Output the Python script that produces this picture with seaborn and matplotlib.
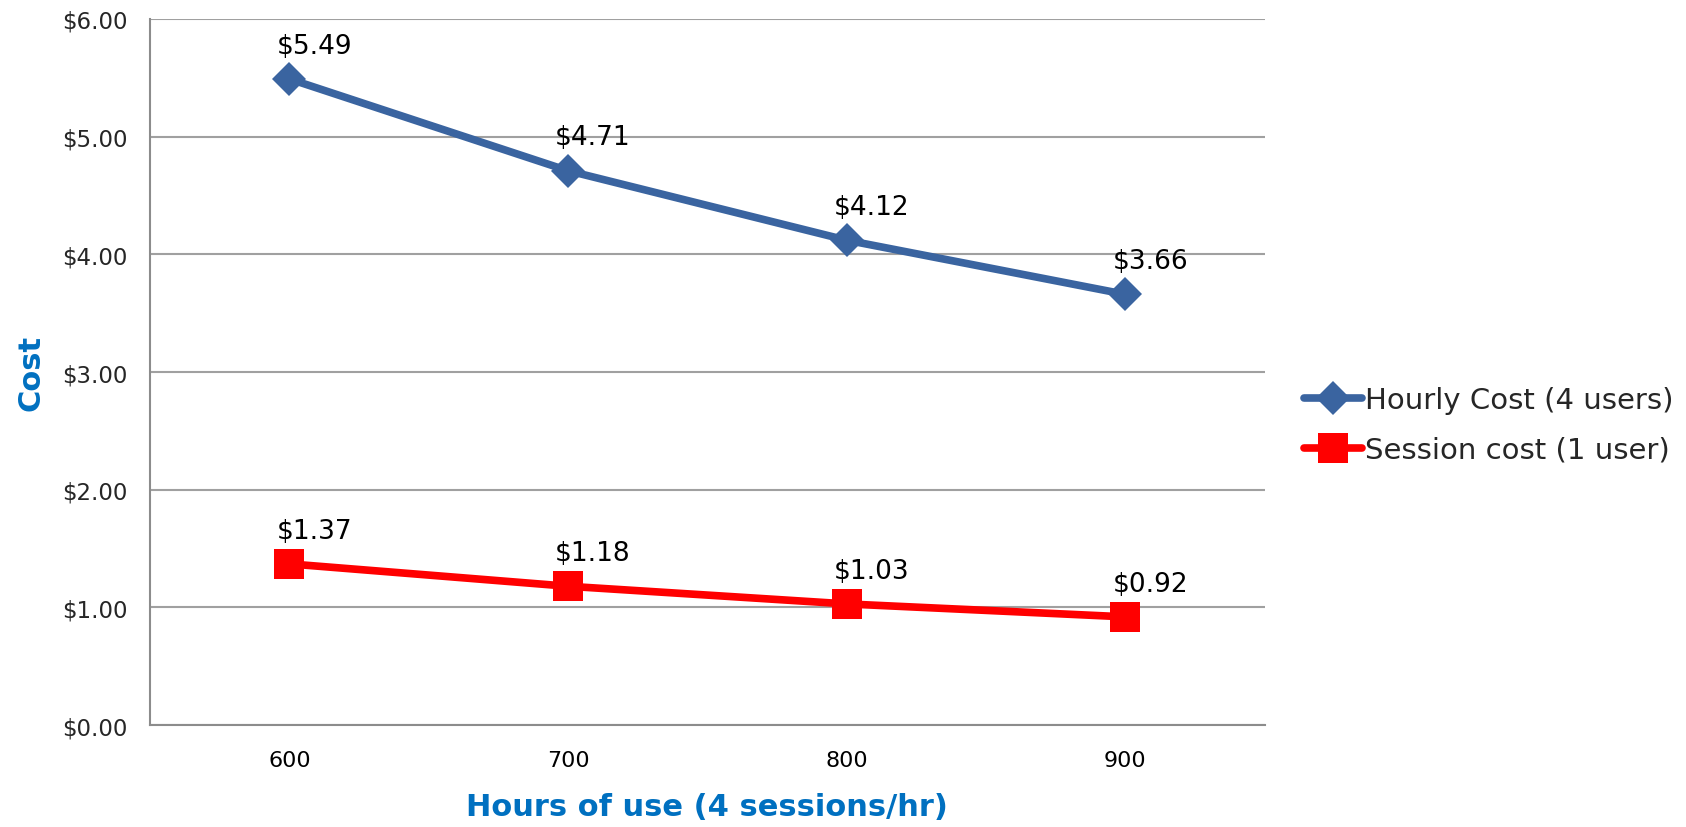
import pandas as pd
import seaborn as sns
import matplotlib.pyplot as plt

hours = ['600', '700', '800', '900']
hourly_cost = [5.49, 4.71, 4.12, 3.66]
session_cost = [1.37, 1.18, 1.03, 0.92]
series_names = ['Hourly Cost (4 users)', 'Session cost (1 user)']

df = pd.DataFrame({
    'Hours': hours * 2,
    'Cost': hourly_cost + session_cost,
    'Series': [series_names[0]] * 4 + [series_names[1]] * 4,
})

sns.set_style('white')
plt.rcParams['font.family'] = ['DejaVu Sans']

fig = plt.figure(figsize=(16.86, 8.28), dpi=100)
ax = fig.add_axes([0.089, 0.123, 0.661, 0.853])

colors = {series_names[0]: '#3A64A0', series_names[1]: '#FF0000'}
markers = {series_names[0]: 'D', series_names[1]: 's'}
sizes = {series_names[0]: 17, series_names[1]: 21}

for name in series_names:
    sub = df[df['Series'] == name]
    sns.lineplot(data=sub, x='Hours', y='Cost', ax=ax, color=colors[name],
                 marker=markers[name], markersize=sizes[name], linewidth=5.5,
                 markeredgewidth=0, label=name, zorder=3)
    for h, v in zip(sub['Hours'], sub['Cost']):
        ax.annotate(f'${v:.2f}', (h, v), xytext=(18, 24), textcoords='offset points',
                    ha='center', va='center', fontsize=19, color='#000000', zorder=4)

ax.set_xlim(-0.5, 3.5)
ax.set_ylim(0, 6)
ax.set_yticks([0, 1, 2, 3, 4, 5, 6])
ax.set_yticklabels([f'${v:.2f}' for v in range(7)])
ax.set_xticks([-0.5, 0.5, 1.5, 2.5, 3.5], minor=True)
ax.tick_params(axis='x', which='major', length=0, pad=18, labelsize=16, colors='#000000')
ax.tick_params(axis='x', which='minor', length=8, width=1.5, color='#8C8C8C', direction='out')
ax.tick_params(axis='y', length=8, width=1.5, color='#8C8C8C', direction='out', labelsize=16.5, pad=8)
ax.tick_params(axis='x', which='major', bottom=False)

ax.grid(axis='y', color='#A0A0A0', linewidth=1.5)
ax.set_axisbelow(True)
for s in ['top', 'right']:
    ax.spines[s].set_visible(False)
for s in ['left', 'bottom']:
    ax.spines[s].set_color('#8C8C8C')
    ax.spines[s].set_linewidth(1.5)

ax.set_xlabel('Hours of use (4 sessions/hr)', fontsize=22, fontweight='bold', color='#0070C0', labelpad=16)
ax.set_ylabel('Cost', fontsize=22, fontweight='bold', color='#0070C0', labelpad=12)

ax.legend(loc='center left', bbox_to_anchor=(1.025, 0.425), frameon=False, fontsize=21,
          handlelength=2.0, handletextpad=0.1, labelspacing=0.75, borderaxespad=0)

fig.savefig('out.png', dpi=100)
